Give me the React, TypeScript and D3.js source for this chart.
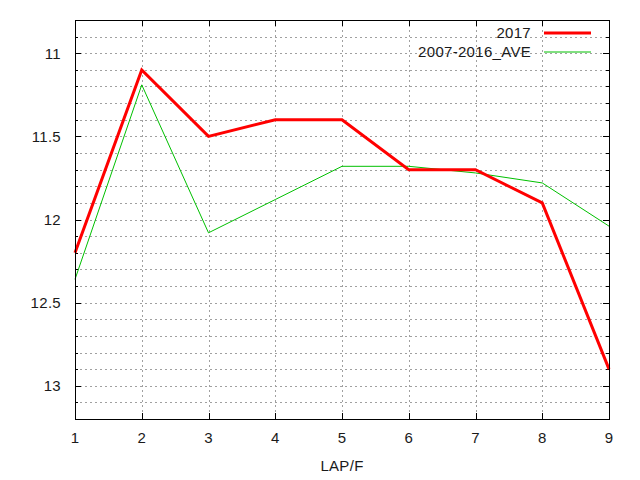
import * as d3 from "d3";

// ─── Data ────────────────────────────────────────────────────────────────────

const laps = [1, 2, 3, 4, 5, 6, 7, 8, 9];
const series2017 = [12.2, 11.1, 11.5, 11.4, 11.4, 11.7, 11.7, 11.9, 12.9];
const seriesAve = [12.36, 11.19, 12.08, 11.88, 11.68, 11.68, 11.72, 11.78, 12.04];
const yMajorTicks = [11, 11.5, 12, 12.5, 13];
const seriesNames = ["2017", "2007-2016_AVE"];
const xLabel = "LAP/F";

const WIDTH = 640;
const HEIGHT = 480;
const MARGIN = { top: 20, right: 31, bottom: 61, left: 75 };
const FONT = "'Liberation Sans', Arial, sans-serif";

export default function App() {
  const innerW = WIDTH - MARGIN.left - MARGIN.right;
  const innerH = HEIGHT - MARGIN.top - MARGIN.bottom;

  // ── Scales ──────────────────────────────────────────────────────────────
  const x = d3.scaleLinear().domain([1, 9]).range([0, innerW]);
  // inverted: smaller times at the top
  const y = d3.scaleLinear().domain([10.8, 13.2]).range([0, innerH]);

  const yMinor = d3.range(108, 133).map((v) => v / 10).filter((v) => v > 10.8 && v < 13.2);
  const isMajor = (v: number) => yMajorTicks.some((t) => Math.abs(t - v) < 1e-6);

  const line = d3
    .line<number>()
    .x((_, i) => x(laps[i]))
    .y((d) => y(d));

  const gridColor = "#a0a0a0";
  const textColor = "#1a1a1a";

  return (
    <svg
      width={WIDTH}
      height={HEIGHT}
      style={{ position: "absolute", left: 0, top: 0, background: "#fff" }}
      fontFamily={FONT}
      letterSpacing="0.3"
    >
      <g transform={`translate(${MARGIN.left},${MARGIN.top})`}>
        {/* ── Grid ───────────────────────────────────────────────────── */}
        {yMinor.map((v) => (
          <line
            key={`gy${v}`}
            x1={0}
            x2={innerW}
            y1={Math.round(y(v)) + 0.5}
            y2={Math.round(y(v)) + 0.5}
            stroke={gridColor}
            strokeDasharray="2,3"
          />
        ))}
        {laps.slice(1, -1).map((v) => (
          <line
            key={`gx${v}`}
            x1={Math.round(x(v)) + 0.5}
            x2={Math.round(x(v)) + 0.5}
            y1={0}
            y2={innerH}
            stroke={gridColor}
            strokeDasharray="2,3"
          />
        ))}

        {/* ── Ticks ──────────────────────────────────────────────────── */}
        {yMinor.map((v) => {
          const len = isMajor(v) ? 6 : 3;
          const yy = Math.round(y(v)) + 0.5;
          return (
            <g key={`ty${v}`} stroke="#000">
              <line x1={0} x2={len} y1={yy} y2={yy} />
              <line x1={innerW - len} x2={innerW} y1={yy} y2={yy} />
            </g>
          );
        })}
        {laps.map((v) => {
          const xx = Math.round(x(v)) + 0.5;
          return (
            <g key={`tx${v}`} stroke="#000">
              <line x1={xx} x2={xx} y1={innerH} y2={innerH - 6} />
              <line x1={xx} x2={xx} y1={0} y2={6} />
            </g>
          );
        })}

        {/* ── Tick labels ────────────────────────────────────────────── */}
        {yMajorTicks.map((v) => (
          <text
            key={`ly${v}`}
            x={-14}
            y={y(v)}
            dy="0.36em"
            textAnchor="end"
            fontSize={15}
            fill={textColor}
          >
            {v}
          </text>
        ))}
        {laps.map((v) => (
          <text
            key={`lx${v}`}
            x={x(v)}
            y={innerH + 24}
            textAnchor="middle"
            fontSize={15}
            fill={textColor}
          >
            {v}
          </text>
        ))}
        <text x={innerW / 2} y={innerH + 52} textAnchor="middle" fontSize={15} fill={textColor}>
          {xLabel}
        </text>

        {/* ── Series ─────────────────────────────────────────────────── */}
        <path d={line(seriesAve) ?? ""} fill="none" stroke="#00c000" strokeWidth={1} />
        <path d={line(series2017) ?? ""} fill="none" stroke="#ff0000" strokeWidth={3} />

        {/* ── Frame ──────────────────────────────────────────────────── */}
        <rect x={0.5} y={0.5} width={innerW} height={innerH} fill="none" stroke="#000" />

        {/* ── Legend ─────────────────────────────────────────────────── */}
        {seriesNames.map((name, i) => {
          const ly = 13 + i * 19;
          return (
            <g key={name}>
              <text x={456} y={ly} dy="0.36em" textAnchor="end" fontSize={15} fill={textColor}>
                {name}
              </text>
              <line
                x1={469}
                x2={516}
                y1={ly}
                y2={ly}
                stroke={i === 0 ? "#ff0000" : "#00c000"}
                strokeWidth={i === 0 ? 3 : 1}
              />
            </g>
          );
        })}
      </g>
    </svg>
  );
}
